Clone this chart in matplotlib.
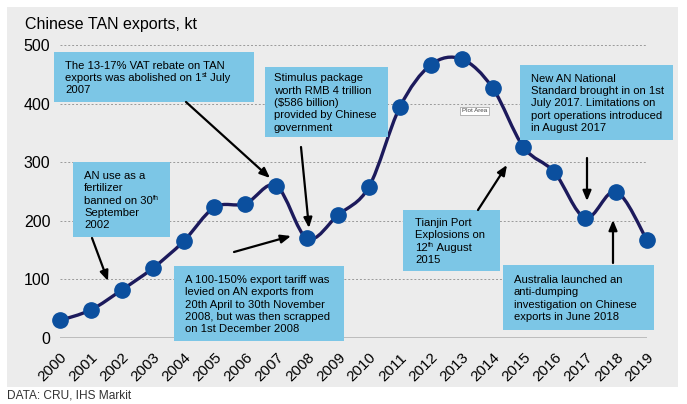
import re
import numpy as np
import matplotlib
matplotlib.use("Agg")
import matplotlib.pyplot as plt
from matplotlib.path import Path
from matplotlib.patches import PathPatch, Rectangle

plt.rcParams['font.family'] = ['Liberation Sans', 'DejaVu Sans']

years = list(range(2000, 2020))
exports = [30, 48, 82, 119, 165, 223, 229, 260, 170, 210,
           258, 394, 466, 476, 427, 326, 283, 205, 250, 167]
ylabels = [0, 100, 200, 300, 400, 500]

LINE = "#1c1a5c"
DOT = "#0b4f9e"
BOX = "#7cc6e6"

fig = plt.figure(figsize=(6.87, 4.04), dpi=100)
fig.patch.set_facecolor("white")

# grey panel behind everything
bg = fig.add_axes([0, 0, 1, 1], zorder=-5)
bg.set_xlim(0, 687)
bg.set_ylim(404, 0)
bg.axis("off")
bg.add_patch(Rectangle((7, 7), 671, 380, facecolor="#ececec", edgecolor="none"))

ax = fig.add_axes([60 / 687, 1 - 338 / 404, 587 / 687, 293 / 404], zorder=1)
ax.set_facecolor("none")
ax.set_xlim(2000, 2019)
ax.set_ylim(0, 500)
for s in ax.spines.values():
    s.set_visible(False)

for v in ylabels[1:]:
    ax.axhline(v, color="#9a9a9a", lw=0.7, ls=(0, (2, 2)), zorder=1)
ax.axhline(0, color="#b8b8b8", lw=2, zorder=1)

ax.set_yticks(ylabels)
ax.set_yticklabels([str(v) for v in ylabels], fontsize=11.5)
ax.set_xticks(years)
ax.set_xticklabels([str(y) for y in years], rotation=45, fontsize=11,
                   ha="right", va="top", rotation_mode="anchor")
ax.tick_params(length=0, pad=7)
ax.tick_params(axis="x", pad=9)

# smoothed line (Catmull-Rom -> cubic bezier)
x = np.array(years, float)
y = np.array(exports, float)
verts = [(x[0], y[0])]
codes = [Path.MOVETO]
for i in range(len(x) - 1):
    p0 = (x[i - 1], y[i - 1]) if i > 0 else (x[i], y[i])
    p1 = (x[i], y[i])
    p2 = (x[i + 1], y[i + 1])
    p3 = (x[i + 2], y[i + 2]) if i + 2 < len(x) else p2
    c1 = (p1[0] + (p2[0] - p0[0]) / 6, p1[1] + (p2[1] - p0[1]) / 6)
    c2 = (p2[0] - (p3[0] - p1[0]) / 6, p2[1] - (p3[1] - p1[1]) / 6)
    verts += [c1, c2, p2]
    codes += [Path.CURVE4] * 3
ax.add_patch(PathPatch(Path(verts, codes), facecolor="none", edgecolor=LINE,
                       lw=2.4, zorder=3, clip_on=False))
ax.plot(years, exports, ls="none", marker="o", ms=11, mfc=DOT, mec=DOT,
        zorder=4, clip_on=False)

# overlay for boxes / arrows / labels in pixel coords
ov = fig.add_axes([0, 0, 1, 1], zorder=5)
ov.set_xlim(0, 687)
ov.set_ylim(404, 0)
ov.axis("off")

ov.text(25, 25, "Chinese TAN exports, kt", fontsize=11.5, va="center", ha="left")
ov.text(7, 396, "DATA: CRU, IHS Markit", fontsize=8.6, color="#333333",
        va="center", ha="left")

renderer = fig.canvas.get_renderer()


def draw_line(x0, yb, ln, fs=8.1):
    # text with ^{sup} parts, drawn piece by piece
    cur = x0
    for part in re.split(r"(\^\{[^}]*\})", ln):
        if not part:
            continue
        sup = part.startswith("^{")
        s = part[2:-1] if sup else part
        t = ov.text(cur, yb - (4 if sup else 0), s, fontsize=fs * (0.62 if sup else 1),
                    va="baseline", ha="left", zorder=3)
        w = t.get_window_extent(renderer).width
        if s.endswith(" "):
            w += fs * 0.278 * 100 / 72
        cur += w


def box(x0, y0, x1, y1, txt, pad=11, ls=12.3):
    ov.add_patch(Rectangle((x0, y0), x1 - x0, y1 - y0, facecolor=BOX,
                           edgecolor="none", zorder=2))
    lines = txt.split("\n")
    first = (y0 + y1) / 2 - (8 + (len(lines) - 1) * ls) / 2 + 8
    for k, ln in enumerate(lines):
        draw_line(x0 + pad, first + k * ls, ln)


def arrow(xa, ya, xb, yb):
    ov.annotate("", xy=(xb, yb), xytext=(xa, ya),
                arrowprops=dict(arrowstyle="-|>,head_length=0.6,head_width=0.25",
                                color="black", lw=1.6, shrinkA=0, shrinkB=0),
                zorder=4)


box(54, 52, 254, 102,
    "The 13-17% VAT rebate on TAN\nexports was abolished on 1^{st} July\n2007")
box(265, 67, 388, 137,
    "Stimulus package\nworth RMB 4 trillion\n($586 billion)\nprovided by Chinese\ngovernment",
    pad=9)
box(73, 162, 170, 237,
    "AN use as a\nfertilizer\nbanned on 30^{th}\nSeptember\n2002")
box(174, 266, 344, 341,
    "A 100-150% export tariff was\nlevied on AN exports from\n20th April to 30th November\n2008, but was then scrapped\non 1st December 2008")
box(520, 65, 673, 140,
    "New AN National\nStandard brought in on 1st\nJuly 2017. Limitations on\nport operations introduced\nin August 2017")
box(403, 210, 500, 271,
    "Tianjin Port\nExplosions on\n12^{th} August\n2015", pad=12)
box(503, 265, 654, 330,
    "Australia launched an\nanti-dumping\ninvestigation on Chinese\nexports in June 2018")

arrow(186, 102, 270, 178)
arrow(301, 147, 309, 228)
arrow(92, 238, 108, 281)
arrow(234, 252, 291, 236)
arrow(478, 210, 507, 165)
arrow(587, 158, 587, 201)
arrow(613, 263, 613, 220)

# screenshot tooltip
ov.text(462, 111, "Plot Area", fontsize=4.5, color="#444444",
        va="center", ha="left",
        bbox=dict(boxstyle="square,pad=0.3", fc="white", ec="#999999", lw=0.5))

fig.savefig("out.png", dpi=100)
